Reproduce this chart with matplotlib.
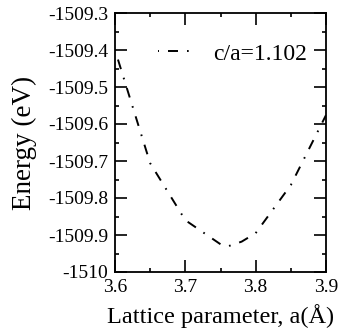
import matplotlib
matplotlib.use("Agg")
import matplotlib.pyplot as plt
from matplotlib.ticker import FixedLocator, FixedFormatter, MultipleLocator

plt.rcParams['font.family'] = ['Liberation Serif', 'DejaVu Serif']
plt.rcParams['lines.scale_dashes'] = False

lattice_a = [3.60, 3.65, 3.70, 3.75, 3.76, 3.78, 3.80, 3.85, 3.90]
energy = [-1509.40, -1509.706, -1509.860, -1509.925, -1509.931, -1509.918, -1509.895, -1509.765, -1509.576]
series_label = "c/a=1.102"

xticks = [3.6, 3.7, 3.8, 3.9]
xticklabels = ["3.6", "3.7", "3.8", "3.9"]
yticks = [-1510.0, -1509.9, -1509.8, -1509.7, -1509.6, -1509.5, -1509.4, -1509.3]
yticklabels = ["-1510", "-1509.9", "-1509.8", "-1509.7", "-1509.6", "-1509.5", "-1509.4", "-1509.3"]

fig = plt.figure(figsize=(3.39, 3.36), dpi=100)
ax = fig.add_axes([115/339, (336-272)/336, 211/339, 259/336])

ax.plot(lattice_a, energy, color='black', lw=1.4,
        linestyle=(14.2, (7.2, 6.5, 1.2, 6.5)), label=series_label)

ax.set_xlim(3.6, 3.9)
ax.set_ylim(-1510.0, -1509.3)
ax.xaxis.set_major_locator(FixedLocator(xticks))
ax.xaxis.set_major_formatter(FixedFormatter(xticklabels))
ax.yaxis.set_major_locator(FixedLocator(yticks))
ax.yaxis.set_major_formatter(FixedFormatter(yticklabels))
ax.xaxis.set_minor_locator(MultipleLocator(0.05))
ax.yaxis.set_minor_locator(MultipleLocator(0.05))

ax.tick_params(which='both', direction='in', top=True, right=True, width=1.2)
ax.tick_params(which='major', length=8.5, labelsize=14, pad=5)
ax.tick_params(which='minor', length=3.2)
for s in ax.spines.values():
    s.set_linewidth(1.3)

ax.set_xlabel("Lattice parameter, a(Å)", fontsize=17.5, labelpad=6)
ax.set_ylabel("Energy (eV)", fontsize=19.5, labelpad=8)

ax.legend(loc='center right', bbox_to_anchor=(0.91, 0.842), frameon=False,
          fontsize=17, handlelength=1.4, handletextpad=0.93,
          borderaxespad=0, borderpad=0)

fig.savefig("out.png", dpi=100)
